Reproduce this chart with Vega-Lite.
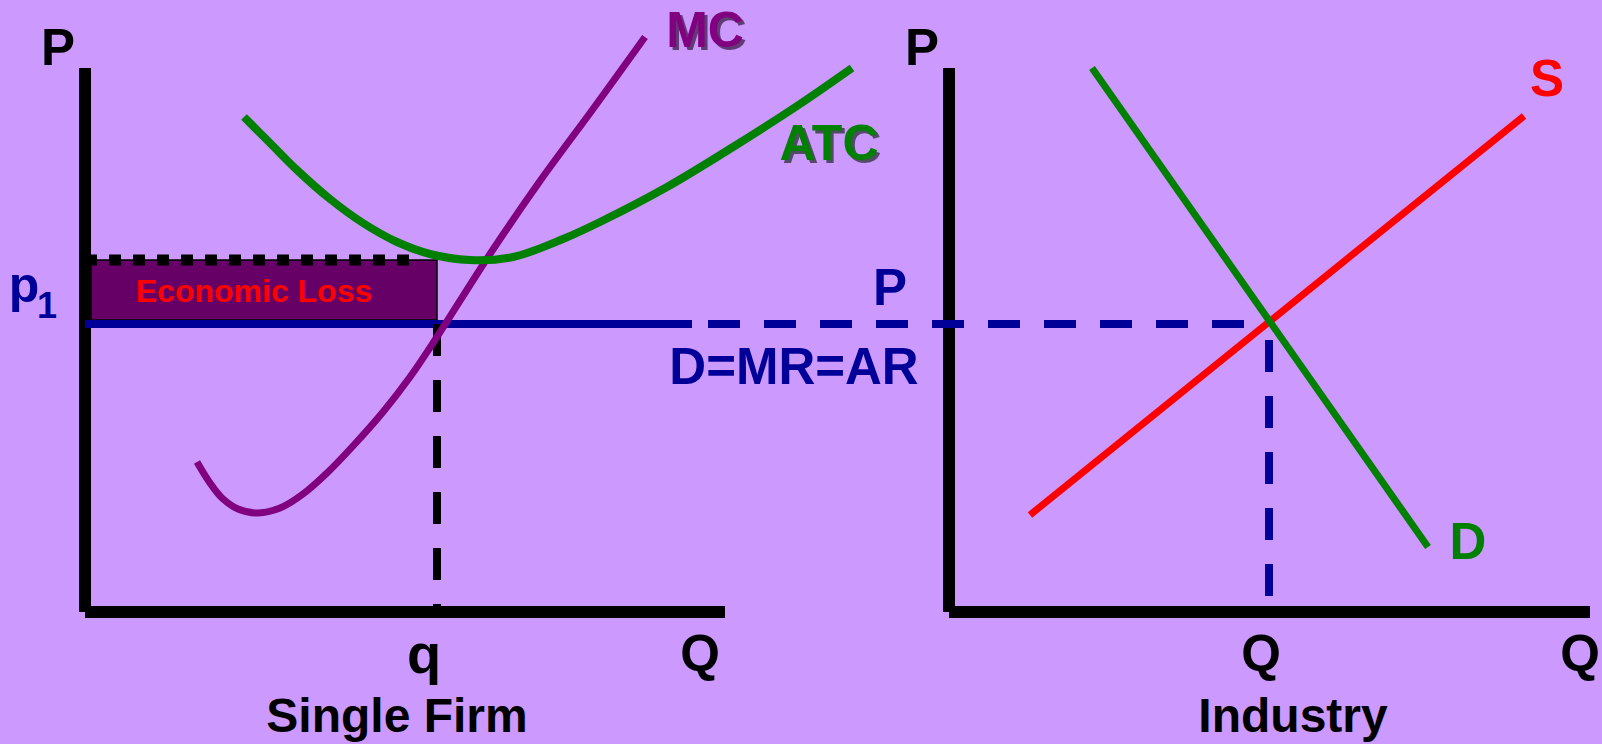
{
  "$schema": "https://vega.github.io/schema/vega-lite/v6.json",
  "width": 1602,
  "height": 744,
  "autosize": {"type": "none"},
  "padding": 0,
  "background": "#CC99FF",
  "config": {"view": {"stroke": null}, "text": {"font": "Liberation Sans", "fontWeight": "bold", "baseline": "alphabetic", "align": "center"}},
  "datasets": {
    "loss": [{"x": 91, "x2": 437, "y": 260, "y2": 320}],
    "axes": [
      {"x": 85, "x2": 85, "y": 68, "y2": 612},
      {"x": 85, "x2": 725, "y": 612, "y2": 612},
      {"x": 949, "x2": 949, "y": 68, "y2": 612},
      {"x": 949, "x2": 1590, "y": 612, "y2": 612}
    ],
    "atcLevel": [{"x": 85, "x2": 409, "y": 260, "y2": 260}],
    "priceSolid": [{"x": 85, "x2": 692, "y": 324, "y2": 324}],
    "priceDashed": [{"x": 708, "x2": 1245, "y": 324, "y2": 324}],
    "qIndustry": [{"x": 1269, "x2": 1269, "y": 596, "y2": 324}],
    "qFirm": [{"x": 437, "x2": 437, "y": 324, "y2": 612}],
    "supply": [{"x": 1030, "x2": 1524, "y": 515, "y2": 116}],
    "demand": [{"x": 1092, "x2": 1428, "y": 68, "y2": 547}],
    "mc": [
      {"x": 197, "y": 462}, {"x": 210, "y": 483}, {"x": 222, "y": 498}, {"x": 238, "y": 509},
      {"x": 258, "y": 513}, {"x": 280, "y": 508}, {"x": 303, "y": 494}, {"x": 327, "y": 473},
      {"x": 353, "y": 446}, {"x": 383, "y": 412}, {"x": 410, "y": 377}, {"x": 435, "y": 340},
      {"x": 490, "y": 254}, {"x": 540, "y": 181}, {"x": 593, "y": 109}, {"x": 645, "y": 37}
    ],
    "atc": [
      {"x": 244, "y": 117}, {"x": 270, "y": 143}, {"x": 297, "y": 170}, {"x": 330, "y": 199},
      {"x": 363, "y": 223}, {"x": 397, "y": 242}, {"x": 430, "y": 254}, {"x": 470, "y": 260},
      {"x": 513, "y": 257}, {"x": 563, "y": 239}, {"x": 600, "y": 222}, {"x": 667, "y": 187},
      {"x": 733, "y": 147}, {"x": 800, "y": 104}, {"x": 852, "y": 68}
    ],
    "blackLabels": [
      {"x": 58, "y": 65, "label": "P"},
      {"x": 922, "y": 65, "label": "P"},
      {"x": 700, "y": 671, "label": "Q"},
      {"x": 1261, "y": 671, "label": "Q"},
      {"x": 1580, "y": 671, "label": "Q"}
    ],
    "titles": [
      {"x": 397, "y": 732, "label": "Single Firm"},
      {"x": 1293, "y": 732, "label": "Industry"}
    ],
    "qLabel": [{"x": 424, "y": 673, "label": "q"}],
    "blueLabels": [
      {"x": 890, "y": 305, "label": "P"},
      {"x": 794, "y": 384, "label": "D=MR=AR"}
    ],
    "pLabel": [{"x": 24, "y": 302, "label": "p"}],
    "subLabel": [{"x": 47, "y": 318, "label": "1"}],
    "mcLabel": [{"x": 705, "y": 47, "label": "MC"}],
    "atcLabel": [{"x": 829, "y": 160, "label": "ATC"}],
    "sLabel": [{"x": 1547, "y": 96, "label": "S"}],
    "dLabel": [{"x": 1468, "y": 559, "label": "D"}],
    "lossLabel": [{"x": 254, "y": 302, "label": "Economic Loss"}]
  },
  "encoding": {
    "x": {"field": "x", "type": "quantitative", "scale": {"domain": [0, 1602], "nice": false, "zero": false}, "axis": null},
    "y": {"field": "y", "type": "quantitative", "scale": {"domain": [0, 744], "reverse": true, "nice": false, "zero": false}, "axis": null}
  },
  "layer": [
    {"data": {"name": "loss"}, "mark": {"type": "rect", "fill": "#660066", "stroke": "#000000", "strokeWidth": 1.5},
     "encoding": {"x2": {"field": "x2"}, "y2": {"field": "y2"}}},
    {"data": {"name": "axes"}, "mark": {"type": "rule", "color": "#000000", "strokeWidth": 12, "strokeCap": "butt"},
     "encoding": {"x2": {"field": "x2"}, "y2": {"field": "y2"}}},
    {"data": {"name": "atcLevel"}, "mark": {"type": "rule", "color": "#000000", "strokeWidth": 11, "strokeDash": [12, 12], "strokeCap": "butt"},
     "encoding": {"x2": {"field": "x2"}, "y2": {"field": "y2"}}},
    {"data": {"name": "priceSolid"}, "mark": {"type": "rule", "color": "#000099", "strokeWidth": 8, "strokeCap": "butt"},
     "encoding": {"x2": {"field": "x2"}, "y2": {"field": "y2"}}},
    {"data": {"name": "priceDashed"}, "mark": {"type": "rule", "color": "#000099", "strokeWidth": 8, "strokeDash": [32, 24], "strokeCap": "butt"},
     "encoding": {"x2": {"field": "x2"}, "y2": {"field": "y2"}}},
    {"data": {"name": "qIndustry"}, "mark": {"type": "rule", "color": "#000099", "strokeWidth": 8, "strokeDash": [32, 24], "strokeCap": "butt"},
     "encoding": {"x2": {"field": "x2"}, "y2": {"field": "y2"}}},
    {"data": {"name": "qFirm"}, "mark": {"type": "rule", "color": "#000000", "strokeWidth": 8, "strokeDash": [32, 24], "strokeCap": "butt"},
     "encoding": {"x2": {"field": "x2"}, "y2": {"field": "y2"}}},
    {"data": {"name": "mc"}, "mark": {"type": "line", "color": "#800080", "strokeWidth": 7, "interpolate": "catmull-rom"}, "encoding": {}},
    {"data": {"name": "atc"}, "mark": {"type": "line", "color": "#008000", "strokeWidth": 8, "interpolate": "catmull-rom"}, "encoding": {}},
    {"data": {"name": "supply"}, "mark": {"type": "rule", "color": "#FF0000", "strokeWidth": 7, "strokeCap": "butt"},
     "encoding": {"x2": {"field": "x2"}, "y2": {"field": "y2"}}},
    {"data": {"name": "demand"}, "mark": {"type": "rule", "color": "#008000", "strokeWidth": 7, "strokeCap": "butt"},
     "encoding": {"x2": {"field": "x2"}, "y2": {"field": "y2"}}},
    {"data": {"name": "blackLabels"}, "mark": {"type": "text", "fontSize": 51, "color": "#000000"},
     "encoding": {"text": {"field": "label", "type": "nominal"}}},
    {"data": {"name": "titles"}, "mark": {"type": "text", "fontSize": 48, "color": "#000000"},
     "encoding": {"text": {"field": "label", "type": "nominal"}}},
    {"data": {"name": "qLabel"}, "mark": {"type": "text", "fontSize": 56, "color": "#000000"},
     "encoding": {"text": {"field": "label", "type": "nominal"}}},
    {"data": {"name": "blueLabels"}, "mark": {"type": "text", "fontSize": 51, "color": "#000099"},
     "encoding": {"text": {"field": "label", "type": "nominal"}}},
    {"data": {"name": "pLabel"}, "mark": {"type": "text", "fontSize": 50, "color": "#000099"},
     "encoding": {"text": {"field": "label", "type": "nominal"}}},
    {"data": {"name": "subLabel"}, "mark": {"type": "text", "fontSize": 36, "color": "#000099"},
     "encoding": {"text": {"field": "label", "type": "nominal"}}},
    {"data": {"name": "mcLabel"}, "mark": {"type": "text", "fontSize": 50, "color": "#1a001a", "opacity": 0.6, "dx": 3, "dy": 3},
     "encoding": {"text": {"field": "label", "type": "nominal"}}},
    {"data": {"name": "mcLabel"}, "mark": {"type": "text", "fontSize": 50, "color": "#800080"},
     "encoding": {"text": {"field": "label", "type": "nominal"}}},
    {"data": {"name": "atcLabel"}, "mark": {"type": "text", "fontSize": 50, "color": "#001a00", "opacity": 0.6, "dx": 3, "dy": 3},
     "encoding": {"text": {"field": "label", "type": "nominal"}}},
    {"data": {"name": "atcLabel"}, "mark": {"type": "text", "fontSize": 50, "color": "#008000"},
     "encoding": {"text": {"field": "label", "type": "nominal"}}},
    {"data": {"name": "sLabel"}, "mark": {"type": "text", "fontSize": 51, "color": "#FF0000"},
     "encoding": {"text": {"field": "label", "type": "nominal"}}},
    {"data": {"name": "dLabel"}, "mark": {"type": "text", "fontSize": 51, "color": "#008000"},
     "encoding": {"text": {"field": "label", "type": "nominal"}}},
    {"data": {"name": "lossLabel"}, "mark": {"type": "text", "fontSize": 32, "color": "#FF0000"},
     "encoding": {"text": {"field": "label", "type": "nominal"}}}
  ]
}
